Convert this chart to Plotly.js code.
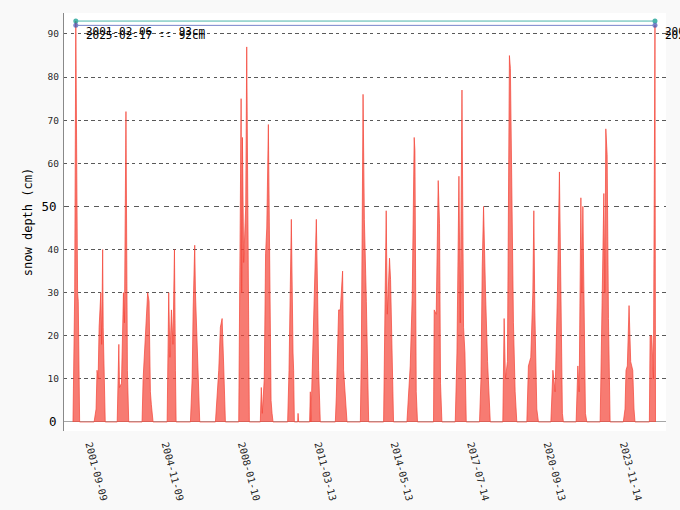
<!DOCTYPE html>
<html>
<head>
<meta charset="utf-8">
<script src="https://cdn.plot.ly/plotly-3.0.1.min.js"></script>
<style>html,body{margin:0;padding:0;background:#f9f9f9;}#chart{width:680px;height:510px;}</style>
</head>
<body>
<div id="chart"></div>
<script>
const snowDates = [
 '2000-12-25','2001-01-05','2001-01-20','2001-02-06','2001-02-12','2001-02-20','2001-03-05','2001-03-15','2001-03-28','2001-04-05',
 '2001-11-10','2001-12-10','2001-12-25','2002-01-10','2002-01-25','2002-02-10','2002-02-20','2002-03-05','2002-03-20','2002-03-28','2002-04-10','2002-04-28',
 '2002-10-26','2002-11-07','2002-11-20','2002-11-30','2002-12-30','2003-01-29','2003-02-13','2003-03-08','2003-03-23','2003-03-30','2003-04-19',
 '2003-11-07','2003-11-23','2003-12-27','2004-01-12','2004-01-31','2004-02-21','2004-03-12','2004-03-27','2004-04-22',
 '2004-11-21','2004-12-15','2005-01-02','2005-01-25','2005-02-17','2005-03-12','2005-03-27','2005-04-06',
 '2005-11-09','2005-12-05','2005-12-20','2006-01-13','2006-01-24','2006-02-18','2006-03-10','2006-03-30',
 '2006-11-23','2006-12-08','2007-01-12','2007-02-06','2007-03-04','2007-03-28','2007-04-23',
 '2007-11-11','2007-11-21','2007-12-17','2007-12-26','2008-01-06','2008-01-25','2008-02-25','2008-03-11','2008-03-26','2008-04-05','2008-04-20',
 '2008-10-03','2008-10-18','2008-11-02','2008-12-02','2008-12-22','2009-01-09','2009-02-02','2009-02-21','2009-03-15','2009-03-30','2009-04-14',
 '2009-11-21','2009-12-12','2010-01-01','2010-01-16','2010-02-11','2010-02-20','2010-03-03','2010-04-22','2010-04-28','2010-05-07',
 '2010-10-20','2010-10-31','2010-11-08','2010-11-26','2010-12-30','2011-01-30','2011-02-18','2011-03-06','2011-03-31',
 '2011-11-14','2011-11-29','2012-01-03','2012-01-28','2012-03-03','2012-03-18','2012-04-18','2012-05-09',
 '2012-11-27','2012-12-12','2013-01-07','2013-01-27','2013-02-26','2013-03-13','2013-04-02',
 '2013-11-14','2013-12-02','2013-12-09','2013-12-24','2014-01-09','2014-02-12','2014-02-28','2014-03-21','2014-04-14',
 '2014-11-03','2014-11-27','2014-12-23','2015-01-22','2015-02-21','2015-03-04','2015-03-24','2015-04-12',
 '2015-12-11','2015-12-21','2016-01-21','2016-02-20','2016-03-11','2016-03-26','2016-04-16',
 '2016-11-04','2016-11-30','2016-12-30','2017-01-19','2017-02-14','2017-03-10','2017-03-31','2017-04-20',
 '2017-11-07','2017-11-29','2017-12-18','2018-01-07','2018-02-06','2018-03-09','2018-04-19',
 '2018-10-26','2018-11-15','2018-12-05','2019-01-04','2019-02-03','2019-02-18','2019-03-12','2019-04-05','2019-05-01','2019-05-26',
 '2019-10-25','2019-11-18','2019-12-24','2020-01-24','2020-02-08','2020-02-23','2020-03-24','2020-04-18',
 '2020-10-23','2020-11-23','2020-12-27','2021-01-31','2021-03-02','2021-03-23','2021-04-16','2021-05-01',
 '2021-11-10','2021-12-06','2021-12-26','2022-01-21','2022-02-05','2022-02-20','2022-03-12','2022-03-31','2022-04-21',
 '2022-11-09','2022-11-20','2022-12-20','2023-01-04','2023-01-19','2023-02-03','2023-02-23','2023-03-15','2023-04-09',
 '2023-10-26','2023-11-21','2023-12-06','2023-12-26','2024-01-21','2024-02-15','2024-03-17','2024-04-05','2024-04-20',
 '2024-11-24','2024-12-05','2024-12-30','2025-01-24','2025-02-17','2025-02-25'
];
const snowDepth = [
 0,12,30,93,73,57,30,28,5,0,
 0,3,12,10,22,28,30,18,40,22,10,0,
 0,8,18,8,9,30,23,72,20,12,0,
 0,10,19,22,30,28,7,4,0,
 0,30,15,26,18,40,12,0,
 0,10,26,41,30,17,8,0,
 0,3,12,22,24,13,0,
 0,16,75,30,66,37,50,87,50,30,0,
 0,8,2,10,39,45,69,28,5,2,0,
 0,12,32,47,16,12,0,0,2,0,
 0,7,0,10,24,47,30,12,0,
 0,6,26,26,35,12,3,0,
 0,16,76,47,28,12,0,
 0,20,30,49,25,38,33,16,0,
 0,8,13,29,66,63,7,0,
 0,26,25,56,46,9,0,
 0,16,57,23,77,22,16,0,
 0,10,36,50,30,14,0,
 0,24,10,14,85,82,55,23,7,0,
 0,13,15,30,49,26,3,0,
 0,12,7,30,58,30,2,0,
 0,13,7,52,30,50,16,2,0,
 0,10,37,53,30,68,62,24,0,
 0,3,12,13,27,14,12,3,0,
 0,20,20,10,92,0
];
// Record values
const maxDates = ['2001-02-06', '2025-02-17'];
const maxDepths = [93, 92];
const spanDates = ['2001-02-06', '2025-02-17'];
// Axis ticks
const xTickVals = ['2001-09-09','2004-11-09','2008-01-10','2011-03-13','2014-05-13','2017-07-14','2020-09-13','2023-11-14'];
const yMajorTicks = [0, 50];
const yMinorTicks = [10, 20, 30, 40, 60, 70, 80, 90];
const yTitle = 'snow depth (cm)';

const FONT = '"DejaVu Sans Mono", "Liberation Mono", monospace';
const maxColors = ['#009688', '#3F51B5'];
const yRange = [-2.09, 94.87];

const traces = [{
  x: snowDates, y: snowDepth, type: 'scatter', mode: 'lines',
  fill: 'tozeroy', fillcolor: 'rgba(244,67,54,0.7)',
  line: {color: 'rgba(244,67,54,0.7)', width: 1},
  hoverinfo: 'skip', showlegend: false
}];
maxDepths.forEach((v, i) => {
  traces.push({
    x: spanDates, y: [v, v], type: 'scatter', mode: 'lines+markers',
    line: {color: maxColors[i], width: 1}, opacity: 0.7,
    marker: {color: maxColors[i], size: 5},
    showlegend: false, hoverinfo: 'skip'
  });
});
const annotations = [];
maxDepths.forEach((v, i) => {
  const label = maxDates[i] + ' -- ' + v + 'cm';
  spanDates.forEach(d => {
    annotations.push({
      x: d, y: v, xref: 'x', yref: 'y', text: label, showarrow: false,
      xanchor: 'left', yanchor: 'middle', xshift: 8, yshift: -10,
      font: {family: FONT, size: 11, color: '#000'}
    });
  });
});

const layout = {
  width: 680, height: 510,
  paper_bgcolor: '#f9f9f9', plot_bgcolor: '#ffffff',
  margin: {l: 64, r: 14, t: 13, b: 79},
  showlegend: false,
  xaxis: {
    type: 'date', range: ['2000-08-11', '2025-08-03'],
    tickvals: xTickVals, ticktext: xTickVals, tickangle: 75,
    tickfont: {family: FONT, size: 10, color: 'rgba(0,0,0,0.87)'},
    showgrid: false, zeroline: false, showline: false, ticks: '',
    ticklabelstandoff: 5, fixedrange: true
  },
  yaxis: {
    range: yRange, tickvals: yMajorTicks, ticktext: yMajorTicks.map(String),
    tickfont: {family: FONT, size: 12.5, color: '#000'},
    showgrid: true, gridcolor: 'rgba(0,0,0,0.65)', griddash: '5px,5px', gridwidth: 1,
    zeroline: true, zerolinecolor: 'rgba(0,0,0,0.35)', zerolinewidth: 1,
    showline: true, linecolor: 'rgba(0,0,0,0.45)', linewidth: 1,
    ticks: '', ticklabelstandoff: 4,
    title: {text: yTitle, font: {family: FONT, size: 12, color: '#000'}, standoff: 6}
  },
  yaxis2: {
    range: yRange, overlaying: 'y', side: 'left',
    tickvals: yMinorTicks, ticktext: yMinorTicks.map(String),
    tickfont: {family: FONT, size: 9.5, color: 'rgba(0,0,0,0.87)'},
    showgrid: true, gridcolor: 'rgba(0,0,0,0.65)', griddash: '3.4px,3.4px', gridwidth: 1,
    zeroline: false, showline: false, ticks: '', ticklabelstandoff: 4
  },
  annotations: annotations
};
// invisible trace so that the secondary (minor-tick) y axis is drawn
traces.unshift({x: [snowDates[0]], y: [0], yaxis: 'y2', type: 'scatter', mode: 'markers',
  marker: {opacity: 0}, showlegend: false, hoverinfo: 'skip'});

Plotly.newPlot('chart', traces, layout, {staticPlot: true, displayModeBar: false});
</script>
</body>
</html>
